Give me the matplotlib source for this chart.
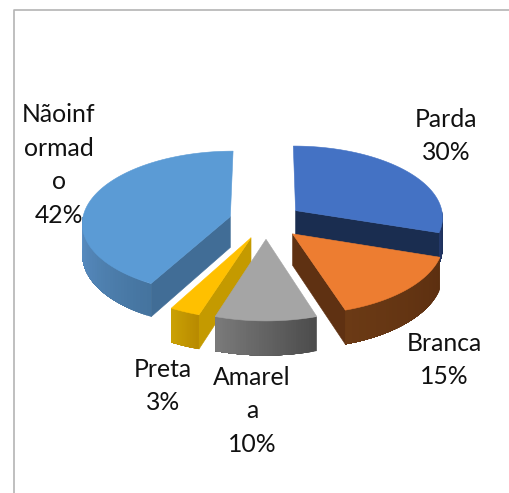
import numpy as np
import matplotlib
matplotlib.use('Agg')
import matplotlib.pyplot as plt
from matplotlib.colors import to_rgb
from matplotlib.patches import Polygon

names = ['Parda\n', 'Branca\n', 'Amarel\na\n', 'Preta\n', 'Nãoinf\normad\no\n']
values = [30, 15, 10, 3, 42]
label_x = [446, 444, 252, 163, 59]
label_y = [136, 360, 411, 386, 165]

top_colors = ['#4472c4', '#ed7d31', '#a5a5a5', '#ffc000', '#5b9bd5']
face_colors = ['#1a2d50', '#5f3112', '#555555', '#c49a00', '#416d96']
wall_left = ['#24396b', '#6b3a15', '#7a7a7a', '#cba204', '#5b90c6']
wall_right = ['#1a2d50', '#5c2f10', '#4c4c4c', '#b88a00', '#45749f']

# projection of the tilted pie, pixels
cx, cy = 266, 221
rx, ry = 148, 71.6
persp = 12.0
depth = 31
explode = 0.25

plt.rcParams['font.family'] = ['Lato', 'DejaVu Sans']

fig = plt.figure(figsize=(5.10, 4.93), dpi=100)
ax = fig.add_axes([0, 0, 1, 1])
ax.set_xlim(0, 510)
ax.set_ylim(493, 0)
ax.axis('off')


def proj(u, v, z=0.0):
    u = np.asarray(u, dtype=float)
    v = np.asarray(v, dtype=float)
    s = persp / (persp - v)
    return np.column_stack([cx + rx * u * s, cy + ry * v * s + depth * z * s])


def rim(th, ou, ov):
    return ou + np.sin(th), ov - np.cos(th)


def blend(c1, c2, t):
    return tuple((1 - t) * a + t * b for a, b in zip(to_rgb(c1), to_rgb(c2)))


def draw_slice(a0, a1, i):
    mid = (a0 + a1) / 2
    ou, ov = explode * np.sin(mid), -explode * np.cos(mid)

    # cut faces that look towards the viewer
    for th, visible in ((a0, np.sin(a0) < -1e-6), (a1, np.sin(a1) > 1e-6)):
        if visible:
            eu, ev = rim(th, ou, ov)
            us = np.array([ou, eu])
            vs = np.array([ov, ev])
            pts = np.vstack([proj(us, vs), proj(us[::-1], vs[::-1], 1)])
            ax.add_patch(Polygon(pts, fc=face_colors[i], ec=face_colors[i], lw=0.4))

    # outer wall: overlapping pieces, so the shading has no seams
    w0, w1 = max(a0, np.pi / 2), min(a1, 3 * np.pi / 2)
    if w1 > w0:
        edges = np.linspace(w0, w1, 40)
        for k in range(len(edges) - 1):
            us, vs = rim(edges[k:], ou, ov)
            pts = np.vstack([proj(us, vs), proj(us[::-1], vs[::-1], 1)])
            # angle runs right to left on the front
            t = 1 - k / (len(edges) - 2)
            col = blend(wall_left[i], wall_right[i], t)
            ax.add_patch(Polygon(pts, fc=col, ec='none'))

    # top
    th = np.linspace(a0, a1, 120)
    us, vs = rim(th, ou, ov)
    pts = np.vstack([proj([ou], [ov]), proj(us, vs)])
    ax.add_patch(Polygon(pts, fc=top_colors[i], ec=top_colors[i], lw=0.4))


total = sum(values)
edges = np.cumsum([0] + values) / total * 2 * np.pi
for i in [0, 4, 1, 3, 2]:
    draw_slice(edges[i], edges[i + 1], i)

# frame of the chart area, cut off at the right and bottom
ax.plot([14.5, 14.5, 510], [493, 9.5, 9.5], color='#b4b4b4', lw=1.2, solid_capstyle='butt')

for name, val, x, y in zip(names, values, label_x, label_y):
    ax.text(x, y, name + '%d%%' % round(val / total * 100), ha='center', va='center',
            fontsize=17.8, color='#111111', linespacing=1.56, multialignment='center')

fig.savefig('out.png', dpi=100)
